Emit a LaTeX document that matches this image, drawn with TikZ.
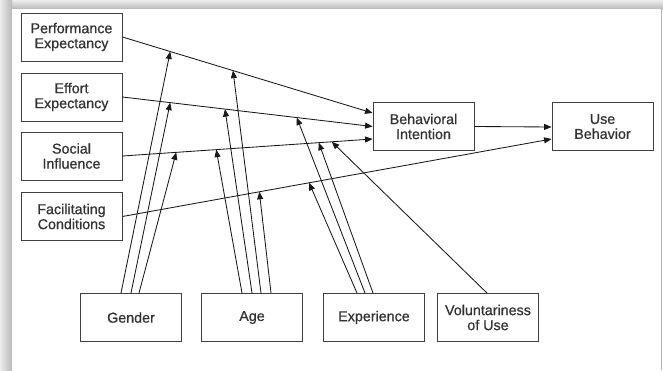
\documentclass[tikz,border=0pt]{standalone}
\usepackage{fontspec}
\setmainfont{Liberation Sans}
\newfontfamily\boxfont{Liberation Sans}[FakeBold=0.7]
\usetikzlibrary{arrows.meta,calc}
\begin{document}
\begin{tikzpicture}[x=1pt,y=-1pt,
  box/.style={draw=black!75,line width=0.9pt,fill=white,minimum width=101pt,minimum height=48pt,
    inner sep=1pt,align=center,font=\boxfont\fontsize{14.3}{15}\selectfont,text=black!80},
  conn/.style={draw=black!90,line width=0.85pt,-{Triangle[length=7.5pt,width=6pt]}},
  mod/.style={draw=black!90,line width=0.85pt,-{Triangle[length=7.5pt,width=6pt]}}]
\useasboundingbox (0,0) rectangle (663,370);
% page with shadow
\fill[white] (0,0) rectangle (663,370);
\shade[top color=gray!15,bottom color=gray!55] (0,0) rectangle (663,9);
\shade[left color=gray!15,right color=gray!55] (0,0) rectangle (12,370);
\fill[white] (12,9) rectangle (661,370);
\draw[gray!60,line width=1pt] (661.5,9) -- (661.5,370);
% nodes
\node[box] (PE) at (71.5,37) {Performance\\Expectancy};
\node[box] (EE) at (71.5,97) {Effort\\Expectancy};
\node[box] (SI) at (71.5,156) {Social\\Influence};
\node[box] (FC) at (71.5,216.5) {Facilitating\\Conditions};
\node[box] (BI) at (423.5,126.5) {Behavioral\\Intention};
\node[box] (UB) at (602.5,126.5) {Use\\Behavior};
\node[box] (G) at (131,317.5) {Gender};
\node[box] (A) at (252,317.5) {Age};
\node[box] (X) at (374,317.5) {Experience};
\node[box] (V) at (488,317.5) {Voluntariness\\of Use};
% end points on main nodes
\coordinate (bi1) at ($(BI.west)+(0,-13.5)$);
\coordinate (bi2) at (BI.west);
\coordinate (bi3) at ($(BI.west)+(0,12.5)$);
\coordinate (ub1) at ($(UB.west)+(0,0.5)$);
\coordinate (ub2) at ($(UB.west)+(0,12.5)$);
% main connectors and points on them
\draw[conn] (PE.east) -- (bi1)
  coordinate[pos=0.191] (peG) coordinate[pos=0.442] (peA);
\draw[conn] (EE.east) -- (bi2)
  coordinate[pos=0.191] (eeG) coordinate[pos=0.41] (eeA) coordinate[pos=0.697] (eeX);
\draw[conn] (SI.east) -- (bi3)
  coordinate[pos=0.215] (siG) coordinate[pos=0.375] (siA) coordinate[pos=0.785] (siX) coordinate[pos=0.837] (siV);
\draw[conn] (FC.east) -- (ub2)
  coordinate[pos=0.319] (fcA) coordinate[pos=0.435] (fcX);
\draw[conn] (BI.east) -- (ub1);
% moderator start points
\coordinate (g1) at ($(G.north)+(-10,0)$);
\coordinate (g2) at ($(G.north)+(0,0)$);
\coordinate (g3) at ($(G.north)+(8,0)$);
\coordinate (a1) at ($(A.north)+(-10,0)$);
\coordinate (a2) at ($(A.north)+(0,0)$);
\coordinate (a3) at ($(A.north)+(9,0)$);
\coordinate (a4) at ($(A.north)+(19,0)$);
\coordinate (x1) at ($(X.north)+(-17,0)$);
\coordinate (x2) at ($(X.north)+(-9,0)$);
\coordinate (x3) at ($(X.north)+(-1,0)$);
\coordinate (v1) at ($(V.north)+(-1,0)$);
% moderator connectors
\draw[mod] (g1) -- (peG);
\draw[mod] (g2) -- (eeG);
\draw[mod] (g3) -- (siG);
\draw[mod] (a1) -- (siA);
\draw[mod] (a2) -- (eeA);
\draw[mod] (a3) -- (peA);
\draw[mod] (a4) -- (fcA);
\draw[mod] (x1) -- (fcX);
\draw[mod] (x2) -- (eeX);
\draw[mod] (x3) -- (siX);
\draw[mod] (v1) -- (siV);
\end{tikzpicture}
\end{document}
